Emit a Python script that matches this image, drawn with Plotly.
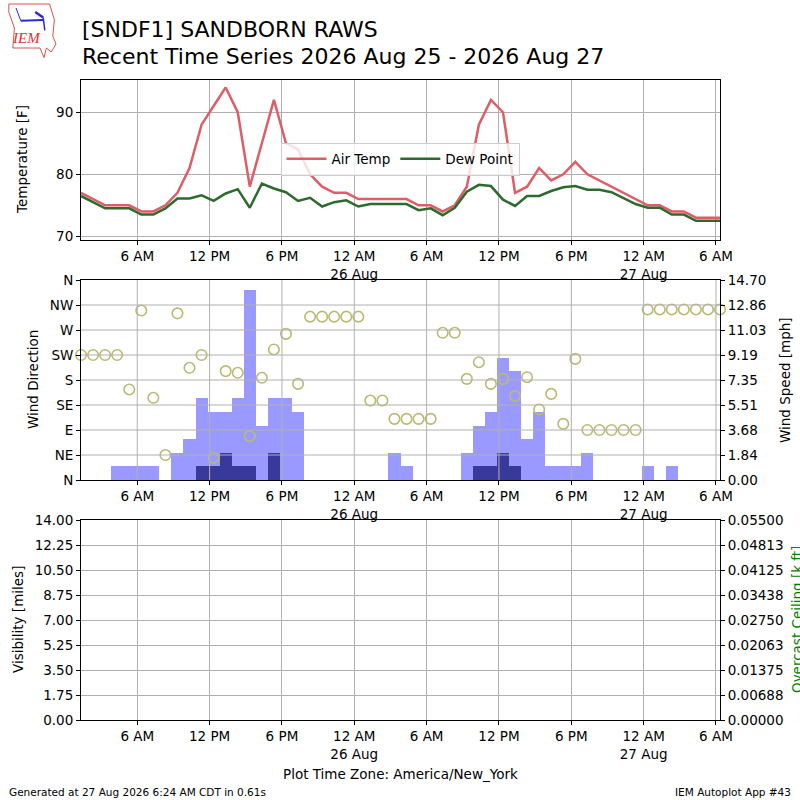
import pandas as pd
import plotly.graph_objects as go

# hourly obs, 2026-08-25 01:20 to 2026-08-27 06:20 (America/New_York)
obs_start = "2026-08-25 01:20"
n_obs = 54

air_temp = [77, 76, 75, 75, 75, 74, 74, 75, 77, 81, 88, 91, 94, 90, 78, 85, 92, 85, 84, 80, 78, 77, 77,
            76, 76, 76, 76, 76, 75, 75, 74, 75, 78, 88, 92, 90, 77, 78, 81, 79, 80, 82, 80, 79, 78, 77, 76,
            75, 75, 74, 74, 73, 73, 73]
dew_point = [76.5, 75.5, 74.5, 74.5, 74.5, 73.5, 73.5, 74.5, 76.1, 76.1, 76.6, 75.7, 76.9, 77.6, 74.6,
             78.5, 77.7, 77.1, 75.7, 76.2, 74.8, 75.5, 75.8,
             74.8, 75.2, 75.2, 75.2, 75.2, 74.2, 74.5, 73.4, 74.6, 77.2, 78.3, 78.1, 75.9, 74.9, 76.5,
             76.5, 77.3, 77.9, 78.1, 77.5, 77.5, 77.1, 76.1, 75.2,
             74.6, 74.6, 73.5, 73.5, 72.5, 72.5, 72.5]
wind_dir = [225, 225, 225, 225, 163, 305, 148, 45, 300, 202, 225, 40, 196, 193, 79, 184, 235, 263, 173,
            294, 294, 294, 294, 294, 143, 143, 110, 110, 110, 110, 265, 265, 182, 212, 173, 182, 151,
            185, 127, 155, 101, 218, 90, 90, 90, 90, 90, 307, 307, 307, 307, 307, 307, 307]
gust = [0, 0, 0, 1, 1, 1, 1, 0, 2, 3, 6, 5, 5, 6, 14, 4, 6, 6, 5, 0, 0, 0, 0, 0, 0, 0, 2, 1, 0, 0,
        0, 0, 2, 4, 5, 9, 8, 3, 5, 1, 1, 1, 2, 0, 0, 0, 0, 1, 0, 1, 0, 0, 0, 0]
sknt = [0, 0, 0, 0, 0, 0, 0, 0, 0, 0, 1, 1, 2, 1, 1, 0, 2, 0, 0, 0, 0, 0, 0, 0, 0, 0, 0, 0, 0, 0,
        0, 0, 0, 1, 1, 2, 1, 0, 0, 0, 0, 0, 0, 0, 0, 0, 0, 0, 0, 0, 0, 0, 0, 0]

tick_vals = ["2026-08-25 06:00", "2026-08-25 12:00", "2026-08-25 18:00", "2026-08-26 00:00",
             "2026-08-26 06:00", "2026-08-26 12:00", "2026-08-26 18:00", "2026-08-27 00:00",
             "2026-08-27 06:00"]
tick_text = ["6 AM", "12 PM", "6 PM", "12 AM<br>26 Aug", "6 AM", "12 PM", "6 PM",
             "12 AM<br>27 Aug", "6 AM"]
dir_vals = [0, 45, 90, 135, 180, 225, 270, 315, 360]
dir_text = ["N", "NE", "E", "SE", "S", "SW", "W", "NW", "N"]
spd_vals = [0, 1.8375, 3.675, 5.5125, 7.35, 9.1875, 11.025, 12.8625, 14.7]
spd_text = ["0.00", "1.84", "3.68", "5.51", "7.35", "9.19", "11.03", "12.86", "14.70"]
vis_vals = [0, 1.75, 3.5, 5.25, 7, 8.75, 10.5, 12.25, 14]
ceil_vals = [0, 0.006875, 0.01375, 0.020625, 0.0275, 0.034375, 0.04125, 0.048125, 0.055]
ceil_text = ["0.00000", "0.00688", "0.01375", "0.02063", "0.02750", "0.03438", "0.04125",
             "0.04813", "0.05500"]

times = pd.date_range(obs_start, periods=n_obs, freq="h")
x_range = [times[0], times[-1]]

FONT = "DejaVu Sans"
GRID = "#b0b0b0"

fig = go.Figure()

fig.add_trace(go.Scatter(x=times, y=air_temp, mode="lines", name="Air Temp",
                         line=dict(color="#dd5e66", width=2.5), xaxis="x", yaxis="y"))
fig.add_trace(go.Scatter(x=times, y=dew_point, mode="lines", name="Dew Point",
                         line=dict(color="#2e6a2e", width=2.5), xaxis="x", yaxis="y"))

fig.add_trace(go.Bar(x=times, y=gust, width=3600 * 1000, marker=dict(color="#9999ff", line_width=0),
                     showlegend=False, xaxis="x2", yaxis="y3"))
fig.add_trace(go.Bar(x=times, y=sknt, width=3600 * 1000, marker=dict(color="#39399b", line_width=0),
                     showlegend=False, xaxis="x2", yaxis="y3"))
fig.add_trace(go.Scatter(x=times, y=wind_dir, mode="markers", showlegend=False,
                         marker=dict(symbol="circle-open", size=10.5, color="#baba72",
                                     line=dict(width=1.6)),
                         xaxis="x2", yaxis="y4", cliponaxis=False))

fig.add_trace(go.Scatter(x=[], y=[], showlegend=False, xaxis="x3", yaxis="y5"))
fig.add_trace(go.Scatter(x=[], y=[], showlegend=False, xaxis="x3", yaxis="y6"))

xdom = [81 / 800, 720 / 800]
tickfont = dict(family=FONT, size=13.5, color="black")
xcommon = dict(domain=xdom, type="date", range=x_range, tickvals=tick_vals, ticktext=tick_text,
               ticks="outside", ticklen=4, tickcolor="black", showline=True, linecolor="black",
               linewidth=1, mirror=True, tickfont=tickfont, gridcolor=GRID, zeroline=False,
               automargin=False)
ycommon = dict(ticks="outside", ticklen=4, tickcolor="black", showline=True, linecolor="black",
               linewidth=1, tickfont=tickfont, gridcolor=GRID, zeroline=False, automargin=False)

fig.update_layout(
    width=800, height=800,
    margin=dict(l=0, r=0, t=0, b=0),
    paper_bgcolor="white", plot_bgcolor="white",
    font=dict(family=FONT, color="black"),
    barmode="overlay", bargap=0,
    xaxis=dict(xcommon, anchor="y", showgrid=True),
    xaxis2=dict(xcommon, anchor="y3", showgrid=False),
    xaxis3=dict(xcommon, anchor="y5", showgrid=True),
    yaxis=dict(ycommon, domain=[0.7, 0.9], anchor="x", range=[69.4, 95.2],
               tickvals=[70, 80, 90], mirror=True, showgrid=True),
    yaxis3=dict(ycommon, domain=[0.4, 0.65], anchor="x2", side="right", range=[0, 14.7],
                tickvals=spd_vals, ticktext=spd_text, showgrid=False),
    yaxis4=dict(ycommon, overlaying="y3", anchor="x2", side="left", range=[0, 360],
                tickvals=dir_vals, ticktext=dir_text, showgrid=False),
    yaxis5=dict(ycommon, domain=[0.1, 0.35], anchor="x3", side="left", range=[0, 14],
                tickvals=vis_vals, tickformat=".2f", showgrid=True),
    yaxis6=dict(ycommon, overlaying="y5", anchor="x3", side="right", range=[0, 0.055],
                tickvals=ceil_vals, ticktext=ceil_text, showgrid=False),
    legend=dict(orientation="h", x=0.5, xanchor="center", y=1 - 159 / 800, yanchor="middle",
                bgcolor="rgba(255,255,255,0.8)", bordercolor="#cccccc", borderwidth=1,
                font=dict(family=FONT, size=13.5), itemwidth=40, tracegroupgap=0),
)

# grid of the wind panel is drawn above the bars, like matplotlib does
shapes = []
for tv in tick_vals:
    shapes.append(dict(type="line", xref="x2", yref="y3 domain", x0=tv, x1=tv, y0=0, y1=1,
                       line=dict(color=GRID, width=1), layer="above"))
for sv in spd_vals[1:-1]:
    shapes.append(dict(type="line", xref="x2 domain", yref="y3", x0=0, x1=1, y0=sv, y1=sv,
                       line=dict(color=GRID, width=1), layer="above"))

# rough IEM logo
shapes.append(dict(type="path", xref="paper", yref="paper",
                   path="M 0.011 0.995 L 0.062 0.995 L 0.068 0.975 L 0.066 0.955 L 0.070 0.945 "
                        "L 0.064 0.935 L 0.058 0.94 L 0.055 0.928 L 0.050 0.94 L 0.016 0.94 "
                        "L 0.018 0.965 L 0.011 0.985 Z",
                   line=dict(color="#e35050", width=1), fillcolor="rgba(0,0,0,0)"))
shapes.append(dict(type="line", xref="paper", yref="paper", x0=0.026, x1=0.054, y0=0.974, y1=0.975,
                   line=dict(color="#2a2ad0", width=2)))
shapes.append(dict(type="line", xref="paper", yref="paper", x0=0.02, x1=0.026, y0=0.99, y1=0.974,
                   line=dict(color="#2a2ad0", width=1)))
shapes.append(dict(type="line", xref="paper", yref="paper", x0=0.044, x1=0.054, y0=0.985, y1=0.978,
                   line=dict(color="#2a2ad0", width=2.5)))
shapes.append(dict(type="line", xref="paper", yref="paper", x0=0.054, x1=0.056, y0=0.978, y1=0.962,
                   line=dict(color="#2a2ad0", width=1.5)))
fig.update_layout(shapes=shapes)

ann = [
    dict(text="<i>IEM</i>", x=0.0335, y=0.952,
         font=dict(family="Liberation Serif", size=15, color="#e03030")),
    dict(text="[SNDF1] SANDBORN RAWS", x=80 / 800, y=1 - 29 / 800, xanchor="left",
         font=dict(size=22)),
    dict(text="Recent Time Series 2026 Aug 25 - 2026 Aug 27", x=80 / 800, y=1 - 56 / 800,
         xanchor="left", font=dict(size=22)),
    dict(text="Temperature [F]", x=22 / 800, y=0.8, textangle=-90, font=dict(size=13.5)),
    dict(text="Wind Direction", x=33 / 800, y=0.525, textangle=-90, font=dict(size=13.5)),
    dict(text="Wind Speed [mph]", x=785 / 800, y=0.525, textangle=-90, font=dict(size=13.5)),
    dict(text="Visibility [miles]", x=18 / 800, y=0.225, textangle=-90, font=dict(size=13.5)),
    dict(text="Overcast Ceiling [k ft]", x=797 / 800, y=0.225, textangle=-90,
         font=dict(size=13.5, color="green")),
    dict(text="Plot Time Zone: America/New_York", x=0.5, y=1 - 774 / 800, font=dict(size=13.5)),
    dict(text="Generated at 27 Aug 2026 6:24 AM CDT in 0.61s", x=7 / 800, y=1 - 792 / 800,
         xanchor="left", font=dict(size=10.5)),
    dict(text="IEM Autoplot App #43", x=793 / 800, y=1 - 792 / 800, xanchor="right",
         font=dict(size=10.5)),
]
for a in ann:
    a.update(xref="paper", yref="paper", showarrow=False)
    a.setdefault("xanchor", "center")
    a["yanchor"] = "middle"
fig.update_layout(annotations=ann)

# the page's default body margin would shift the 800x800 figure by 8px
fig.write_html("out.html", config={"displayModeBar": False},
               post_script="document.body.style.margin = '0px';")
